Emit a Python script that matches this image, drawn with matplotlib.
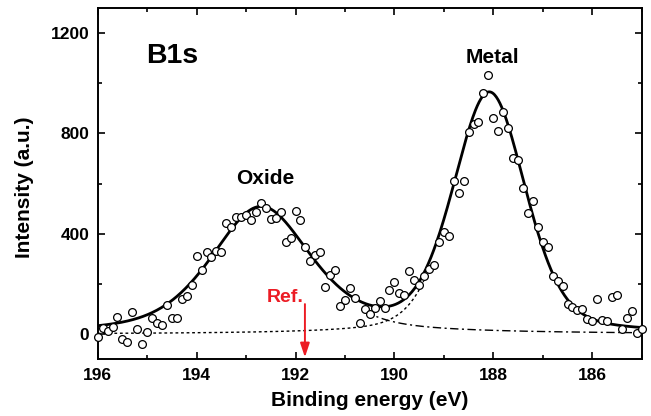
import numpy as np
import matplotlib
matplotlib.use("Agg")
import matplotlib.pyplot as plt
from matplotlib.ticker import MultipleLocator

plt.rcParams["font.family"] = ["Liberation Sans", "DejaVu Sans"]
plt.rcParams["font.weight"] = "bold"

# measured spectrum, binding energy (eV) and intensity (a.u.)
energy = [
    196.0, 195.9, 195.8, 195.7, 195.6, 195.5, 195.4, 195.3, 195.2, 195.1,
    195.0, 194.9, 194.8, 194.7, 194.6, 194.5, 194.4, 194.3, 194.2, 194.1,
    194.0, 193.9, 193.8, 193.7, 193.6, 193.5, 193.4, 193.3, 193.2, 193.1,
    193.0, 192.9, 192.8, 192.7, 192.6, 192.5, 192.4, 192.3, 192.2, 192.1,
    192.0, 191.9, 191.8, 191.7, 191.6, 191.5, 191.4, 191.3, 191.2, 191.1,
    191.0, 190.9, 190.8, 190.7, 190.6, 190.5, 190.4, 190.3, 190.2, 190.1,
    190.0, 189.9, 189.8, 189.7, 189.6, 189.5, 189.4, 189.3, 189.2, 189.1,
    189.0, 188.9, 188.8, 188.7, 188.6, 188.5, 188.4, 188.3, 188.2, 188.1,
    188.0, 187.9, 187.8, 187.7, 187.6, 187.5, 187.4, 187.3, 187.2, 187.1,
    187.0, 186.9, 186.8, 186.7, 186.6, 186.5, 186.4, 186.3, 186.2, 186.1,
    186.0, 185.9, 185.8, 185.7, 185.6, 185.5, 185.4, 185.3, 185.2, 185.1,
    185.0,
]
intensity = [
    -10, 25, 13, 30, 70, -19, -30, 87, 21, -40,
    8, 64, 46, 36, 117, 64, 66, 142, 152, 196,
    313, 257, 326, 306, 333, 329, 444, 427, 467, 467,
    476, 454, 488, 521, 504, 461, 465, 486, 369, 382,
    490, 457, 349, 293, 317, 328, 188, 237, 257, 113,
    137, 184, 144, 46, 100, 81, 106, 133, 104, 177,
    208, 166, 157, 253, 217, 197, 233, 260, 274, 367,
    406, 393, 612, 561, 612, 806, 837, 846, 960, 1034,
    861, 810, 884, 821, 704, 694, 583, 484, 530, 426,
    368, 346, 230, 213, 193, 121, 110, 97, 100, 61,
    52, 141, 58, 54, 150, 158, 20, 65, 93, 6,
    20,
]

# fitted pseudo-Voigt peaks: oxide, metal
peak_names = ["Oxide", "Metal"]
peak_center = [192.7, 188.08]
peak_height = [500, 950]
peak_hwhm = [1.2, 0.86]
peak_eta = [0.5, 0.3]   # lorentzian fraction


def pseudo_voigt(e, c, h, w, eta):
    u = ((e - c) / w) ** 2
    return h * (eta / (1 + u) + (1 - eta) * np.exp(-np.log(2) * u))


e_fit = np.linspace(196, 185, 600)
oxide = pseudo_voigt(e_fit, peak_center[0], peak_height[0], peak_hwhm[0], peak_eta[0])
metal = pseudo_voigt(e_fit, peak_center[1], peak_height[1], peak_hwhm[1], peak_eta[1])
total = oxide + metal

fig = plt.figure(figsize=(6.51, 4.16), dpi=100)
ax = fig.add_axes([0.1501, 0.1363, 0.8356, 0.8445])

m_part = e_fit >= 189.4
o_part = e_fit <= 190.6
ax.plot(e_fit[m_part], metal[m_part], color="black", lw=1.0,
        linestyle=(0, (2, 2)), zorder=2)
ax.plot(e_fit[o_part], oxide[o_part], color="black", lw=1.0,
        linestyle=(0, (6, 2.5, 1.5, 2.5)), zorder=2)
ax.plot(e_fit, total, color="black", lw=2.0, zorder=3)
ax.plot(energy, intensity, "o", ms=5.6, mfc="white", mec="black", mew=0.9,
        zorder=4, clip_on=False)

ax.text(194.5, 1081, "B1s", fontsize=20.5, fontweight="bold", ha="center", va="baseline")
ax.text(192.62, 597, peak_names[0], fontsize=15, fontweight="bold", ha="center", va="baseline")
ax.text(188.02, 1081, peak_names[1], fontsize=15, fontweight="bold", ha="center", va="baseline")

red = "#ec1c24"
ax.text(192.21, 128, "Ref.", fontsize=14, fontweight="bold", color=red,
        ha="center", va="baseline")
ax.annotate("", xy=(191.81, -92), xytext=(191.81, 120),
            arrowprops=dict(arrowstyle="-|>,head_length=0.6,head_width=0.2",
                            color=red, lw=1.4, mutation_scale=14,
                            shrinkA=0, shrinkB=0), zorder=5)

ax.set_xlim(196, 185)
ax.set_ylim(-100, 1300)
ax.xaxis.set_major_locator(MultipleLocator(2))
ax.xaxis.set_minor_locator(MultipleLocator(1))
ax.yaxis.set_major_locator(MultipleLocator(400))
ax.yaxis.set_minor_locator(MultipleLocator(200))
ax.tick_params(which="both", direction="in", top=True, right=True, width=1.2,
               labelsize=12.5, pad=6)
ax.tick_params(which="major", length=5)
ax.tick_params(which="minor", length=3)
for lab in ax.get_xticklabels() + ax.get_yticklabels():
    lab.set_fontweight("bold")
for sp in ax.spines.values():
    sp.set_linewidth(1.4)

ax.set_xlabel("Binding energy (eV)", fontsize=15, fontweight="bold", va="center")
ax.xaxis.set_label_coords(0.5, -0.116)
ax.set_ylabel("Intensity (a.u.)", fontsize=15, fontweight="bold", va="center")
ax.yaxis.set_label_coords(-0.134, 0.49)

fig.savefig("out.png", dpi=100)
